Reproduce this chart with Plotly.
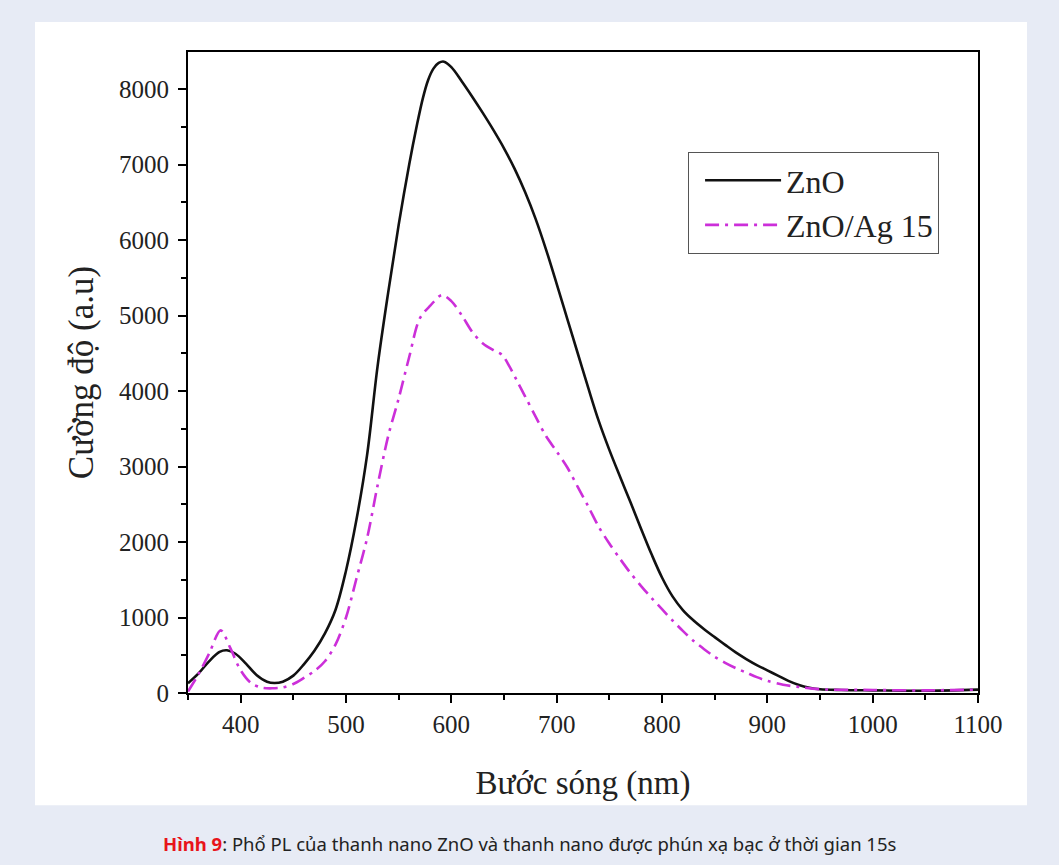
import plotly.graph_objects as go

# Photoluminescence spectra (wavelength in nm, intensity in a.u.)
zno_wavelength = [350, 360, 370, 380, 387, 395, 405, 415, 425, 432, 440, 450, 460, 470,
                  480, 490, 500, 510, 520, 530, 540, 550, 560, 567, 573, 578, 583, 588,
                  593, 600, 610, 620, 630, 640, 650, 660, 670, 680, 690, 700, 710, 720,
                  730, 740, 750, 760, 770, 780, 790, 800, 810, 820, 830, 840, 850, 860,
                  870, 880, 890, 900, 910, 920, 930, 940, 950, 970, 1000, 1050, 1100]
zno_intensity = [130, 260, 420, 545, 566, 520, 390, 240, 150, 132, 150, 230, 380, 560,
                 790, 1100, 1620, 2300, 3150, 4330, 5300, 6200, 7000, 7500, 7880, 8120, 8270, 8345,
                 8362, 8290, 8100, 7895, 7680, 7455, 7215, 6945, 6635, 6280, 5870, 5420, 4960, 4500,
                 4040, 3600, 3220, 2870, 2530, 2180, 1840, 1530, 1280, 1095, 960, 845, 740, 638,
                 538, 450, 370, 300, 230, 160, 105, 70, 50, 40, 35, 30, 45]

ag_wavelength = [350, 360, 370, 381, 390, 400, 410, 420, 430, 440, 450, 460, 470, 480,
                 490, 500, 510, 520, 530, 540, 550, 560, 570, 580, 591, 600, 610, 620,
                 630, 640, 648, 655, 662, 670, 680, 690, 700, 710, 720, 730, 740, 750,
                 760, 770, 780, 790, 800, 810, 820, 830, 840, 850, 860, 870, 880, 890,
                 900, 915, 930, 950, 1000, 1050, 1100]
ag_intensity = [20, 250, 520, 830, 600, 300, 130, 70, 62, 75, 120, 200, 290, 420,
                640, 1000, 1520, 2050, 2750, 3400, 3900, 4450, 4960, 5130, 5270, 5190, 5000, 4780,
                4630, 4540, 4480, 4330, 4144, 3930, 3660, 3400, 3200, 2990, 2730, 2470, 2200, 1980,
                1780, 1590, 1420, 1260, 1110, 960, 820, 690, 580, 480, 400, 330, 270, 210,
                160, 110, 80, 50, 40, 35, 45]

series_names = ["ZnO", "ZnO/Ag 15"]
x_title = "Bước sóng (nm)"
y_title = "Cường độ (a.u)"
caption = ("<b><span style='color:#e8141b'>Hình 9</span></b>: Phổ PL của thanh nano ZnO "
           "và thanh nano được phún xạ bạc ở thời gian 15s")

serif = "Liberation Serif, Times New Roman, serif"

fig = go.Figure()
fig.add_trace(go.Scatter(
    x=zno_wavelength, y=zno_intensity, name=series_names[0], mode="lines",
    line=dict(color="#111111", width=2.6, shape="spline", smoothing=1.0),
))
fig.add_trace(go.Scatter(
    x=ag_wavelength, y=ag_intensity, name=series_names[1], mode="lines",
    line=dict(color="#cc2fd9", width=2.6, shape="spline", smoothing=0.9,
              dash="14px,6px,3px,6px"),
))

axis_common = dict(
    showline=True, linecolor="black", linewidth=2, mirror=True,
    ticks="outside", ticklen=8, tickwidth=2, tickcolor="black",
    showgrid=False, zeroline=False,
    tickfont=dict(family=serif, size=25, color="#222222"),
)

fig.update_xaxes(
    range=[350, 1100], dtick=100, tick0=0,
    minor=dict(ticks="outside", ticklen=5, tickwidth=2, tickcolor="black", dtick=50),
    title=dict(text=x_title, font=dict(family=serif, size=33, color="#222222"), standoff=34),
    **axis_common,
)
fig.update_yaxes(
    range=[0, 8490], dtick=1000, tick0=0,
    minor=dict(ticks="outside", ticklen=5, tickwidth=2, tickcolor="black", dtick=500),
    ticklabelstandoff=4,
    title=dict(text=y_title, font=dict(family=serif, size=35, color="#222222"), standoff=15),
    **axis_common,
)

fig.update_layout(
    width=1059, height=865,
    margin=dict(l=188, r=81, t=52, b=172),
    paper_bgcolor="#e7ebf5",
    plot_bgcolor="white",
    showlegend=True,
    legend=dict(
        x=0.633, y=0.844, xanchor="left", yanchor="top",
        bgcolor="white", bordercolor="#555555", borderwidth=1,
        font=dict(family=serif, size=32, color="#222222"),
        itemwidth=76, indentation=11, tracegroupgap=0,
    ),
    shapes=[dict(
        type="rect", xref="paper", yref="paper", layer="below",
        x0=(35 - 188) / 790, x1=(1027 - 188) / 790,
        y0=-(805 - 692.7) / 640.7, y1=1 + (52 - 22) / 640.7,
        fillcolor="white", line=dict(width=0),
    )],
    annotations=[dict(
        text=caption, xref="paper", yref="paper",
        x=(530 - 188) / 790, y=-(843 - 692.7) / 640.7,
        xanchor="center", yanchor="middle", showarrow=False,
        font=dict(family="Noto Sans, Open Sans, sans-serif", size=18.5, color="#222222"),
    )],
)

fig.write_html("out.html")
